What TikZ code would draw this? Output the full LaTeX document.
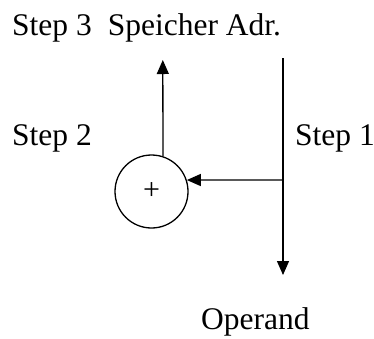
\documentclass[tikz,border=0pt]{standalone}
\usepackage{fontspec}
\setmainfont{Liberation Serif}
\usetikzlibrary{arrows.meta}
\begin{document}
\begin{tikzpicture}[x=1pt,y=-1pt,
  lbl/.style={inner sep=0pt,anchor=base west,font=\fontsize{31.5}{38}\selectfont},
  conn/.style={line width=1.3pt,-{Triangle[length=14pt,width=12pt]}},
  addnode/.style={circle,draw,line width=1.3pt,minimum size=73pt,inner sep=0pt,font=\fontsize{30}{34}\selectfont}]
\useasboundingbox (0,0) rectangle (374,338);
\node[lbl] (s3) at (12,35) {Step 3\hspace{16pt}Speicher Adr.};
\node[lbl] (s2) at (12,145) {Step 2};
\node[lbl] (s1) at (295,145) {Step 1};
\node[lbl] (op) at (201,329) {Operand};
\node[addnode] (plus) at (151.5,191.5) {+};
\coordinate (top1) at (283,58);
\coordinate (bot) at (283,275);
\coordinate (j) at (283,180);
\coordinate (top3) at (162.8,60);
\draw[conn] (top1) -- (bot);
\draw[conn] (j) -- (plus.18);
\draw[conn] (plus.72) -- (top3);
\end{tikzpicture}
\end{document}
